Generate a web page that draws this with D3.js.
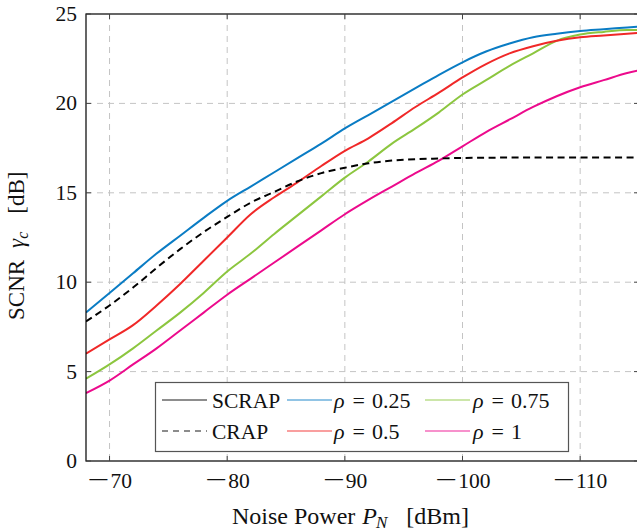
<!DOCTYPE html>
<html>
<head>
<meta charset="utf-8">
<script src="https://d3js.org/d3.v7.min.js"></script>
<style>
body { margin: 0; background: #fff; }
text { font-family: "Liberation Serif", "Times New Roman", serif; fill: #111; }
</style>
</head>
<body>
<svg width="637" height="531"></svg>
<script>
// noise power [dBm]
const pn = [-68, -70, -72, -74, -76, -78, -80, -82, -84, -86, -88, -90, -92, -94, -96, -98, -100, -102, -104, -106, -108, -110, -112, -114, -115];

const crap  = [7.8, 8.7, 9.7, 10.8, 11.85, 12.8, 13.65, 14.45, 15.05, 15.65, 16.1, 16.4, 16.65, 16.8, 16.88, 16.92, 16.95, 16.96, 16.97, 16.97, 16.97, 16.97, 16.97, 16.97, 16.97];
const rho025 = [8.3, 9.4, 10.5, 11.6, 12.6, 13.6, 14.55, 15.35, 16.15, 16.95, 17.75, 18.6, 19.35, 20.1, 20.85, 21.6, 22.3, 22.9, 23.35, 23.7, 23.9, 24.05, 24.15, 24.25, 24.3];
const rho05  = [6.0, 6.8, 7.6, 8.7, 9.9, 11.2, 12.5, 13.8, 14.75, 15.6, 16.5, 17.35, 18.05, 18.9, 19.8, 20.6, 21.45, 22.2, 22.8, 23.2, 23.5, 23.7, 23.8, 23.9, 23.95];
const rho075 = [4.6, 5.4, 6.3, 7.3, 8.3, 9.4, 10.6, 11.6, 12.7, 13.75, 14.8, 15.85, 16.75, 17.75, 18.6, 19.5, 20.5, 21.3, 22.1, 22.8, 23.5, 23.85, 24.0, 24.1, 24.1];
const rho1   = [3.8, 4.5, 5.4, 6.3, 7.3, 8.3, 9.3, 10.2, 11.1, 12.0, 12.9, 13.8, 14.6, 15.35, 16.1, 16.8, 17.6, 18.4, 19.1, 19.8, 20.4, 20.9, 21.3, 21.7, 21.85];

const xTicks = [-70, -80, -90, -100, -110];
const yTicks = [0, 5, 10, 15, 20, 25];

const svg = d3.select('svg');
const pl = 86, pr = 639, pt = 14, pb = 461;

const x = d3.scaleLinear().domain([-68, -115]).range([pl, pr]);
const y = d3.scaleLinear().domain([0, 25]).range([pb, pt]);

svg.append('clipPath').attr('id', 'plot')
  .append('rect').attr('x', pl).attr('y', pt).attr('width', pr - pl).attr('height', pb - pt);

// grid
const grid = svg.append('g').attr('stroke', '#c4c4c4').attr('stroke-width', 1).attr('stroke-dasharray', '6,5');
grid.selectAll('.gx').data(xTicks).join('line')
  .attr('x1', d => x(d)).attr('x2', d => x(d)).attr('y1', pt).attr('y2', pb);
grid.selectAll('.gy').data(yTicks.slice(1, -1)).join('line')
  .attr('x1', pl).attr('x2', pr).attr('y1', d => y(d)).attr('y2', d => y(d));

// curves
const series = [
  {vals: rho1, color: '#ec0a8c', dash: null},
  {vals: rho075, color: '#8cc63f', dash: null},
  {vals: rho05, color: '#f02828', dash: null},
  {vals: rho025, color: '#0a7cc4', dash: null},
  {vals: crap, color: '#000', dash: '7,4.5'}
];
const line = d3.line().x(d => x(d[0])).y(d => y(d[1])).curve(d3.curveMonotoneX);
const lines = svg.append('g').attr('clip-path', 'url(#plot)');
series.forEach(s => {
  lines.append('path')
    .attr('d', line(pn.map((p, i) => [p, s.vals[i]])))
    .attr('fill', 'none')
    .attr('stroke', s.color)
    .attr('stroke-width', 2)
    .attr('stroke-dasharray', s.dash);
});

// legend
const lg = svg.append('g');
lg.append('rect').attr('x', 155.5).attr('y', 382.5).attr('width', 413).attr('height', 69)
  .attr('fill', '#fff').attr('stroke', '#555').attr('stroke-width', 1.2);
const entries = [
  {c: '#000', dash: null, x0: 162, tx: 212, row: 0, label: ['SCRAP']},
  {c: '#000', dash: '6,5', x0: 162, tx: 212, row: 1, label: ['CRAP']},
  {c: '#0a7cc4', dash: null, x0: 287, tx: 334, row: 0, label: ['ρ', '=', '0.25']},
  {c: '#f02828', dash: null, x0: 287, tx: 334, row: 1, label: ['ρ', '=', '0.5']},
  {c: '#8cc63f', dash: null, x0: 425, tx: 473, row: 0, label: ['ρ', '=', '0.75']},
  {c: '#ec0a8c', dash: null, x0: 425, tx: 473, row: 1, label: ['ρ', '=', '1']}
];
entries.forEach(e => {
  const yy = 400 + e.row * 31;
  lg.append('line').attr('x1', e.x0).attr('x2', e.x0 + 45).attr('y1', yy).attr('y2', yy)
    .attr('stroke', e.c).attr('stroke-opacity', 0.6).attr('stroke-width', 1.5)
    .attr('stroke-dasharray', e.dash);
  const t = lg.append('text').attr('x', e.tx).attr('y', yy + 7.5).attr('font-size', 21.5);
  if (e.label.length === 1) t.text(e.label[0]);
  else {
    t.attr('font-size', 22);
    t.append('tspan').attr('font-style', 'italic').text(e.label[0]);
    t.append('tspan').attr('dx', 8).text(e.label[1]);
    t.append('tspan').attr('dx', 7).text(e.label[2]);
  }
});

// frame
svg.append('rect').attr('x', pl).attr('y', pt).attr('width', pr - pl).attr('height', pb - pt)
  .attr('fill', 'none').attr('stroke', '#000').attr('stroke-width', 1.2);

// inward ticks
const tk = svg.append('g').attr('stroke', '#444').attr('stroke-width', 1);
xTicks.forEach(d => {
  tk.append('line').attr('x1', x(d)).attr('x2', x(d)).attr('y1', pb).attr('y2', pb - 5);
  tk.append('line').attr('x1', x(d)).attr('x2', x(d)).attr('y1', pt).attr('y2', pt + 5);
});
yTicks.forEach(d => {
  tk.append('line').attr('x1', pl).attr('x2', pl + 5).attr('y1', y(d)).attr('y2', y(d));
  tk.append('line').attr('x1', pr).attr('x2', pr - 5).attr('y1', y(d)).attr('y2', y(d));
});

// tick labels
svg.append('g').selectAll('text').data(yTicks).join('text')
  .attr('x', 77).attr('y', d => y(d) + 7).attr('text-anchor', 'end').attr('font-size', 21.5)
  .text(d => d);

// x labels: wide math minus + digits
const xl = svg.append('g');
xTicks.forEach(d => {
  const digits = String(Math.abs(d));
  const w = 21 + 4 + digits.length * 10.5;
  const s = x(d) - w / 2;
  xl.append('text').attr('transform', 'translate(' + (s + 12) + ',487) scale(1.8,1)')
    .attr('text-anchor', 'middle').attr('font-size', 21.5).text('\u2212');
  xl.append('text').attr('x', s + 24).attr('y', 488).attr('font-size', 21.5).text(digits);
});

// axis titles
const xt = svg.append('text').attr('x', 232).attr('y', 524).attr('font-size', 24);
xt.append('tspan').text('Noise Power');
xt.append('tspan').attr('dx', 7).attr('font-style', 'italic').text('P');
xt.append('tspan').attr('font-style', 'italic').attr('font-size', 17).attr('dy', 4).attr('dx', -1).text('N');
xt.append('tspan').attr('dy', -4).attr('dx', 19).text('[dBm]');

const yt = svg.append('text').attr('transform', 'translate(23.5,320) rotate(-90)').attr('font-size', 23);
yt.append('tspan').text('SCNR');
yt.append('tspan').attr('dx', 12).attr('font-style', 'italic').text('γ');
yt.append('tspan').attr('font-style', 'italic').attr('font-size', 16).attr('dy', 4).text('c');
yt.append('tspan').attr('dy', -4).attr('dx', 18).text('[dB]');
</script>
</body>
</html>
